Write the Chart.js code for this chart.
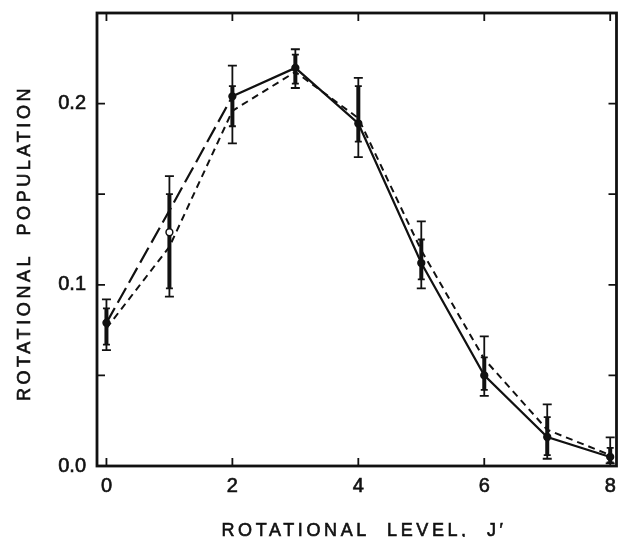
<!DOCTYPE html>
<html>
<head>
<meta charset="utf-8">
<script src="https://cdn.jsdelivr.net/npm/chart.js@4.4.1/dist/chart.umd.min.js"></script>
<style>
  html, body { margin: 0; padding: 0; background: #fff; }
  canvas { display: block; }
</style>
</head>
<body>
<canvas id="c" width="622" height="537"></canvas>
<script>
// Rotational level J'
const levels = [0, 1, 2, 3, 4, 5, 6, 7, 8];

// Model curves
const solidCurve  = [0.079, 0.141, 0.204, 0.2197, 0.189, 0.112, 0.050, 0.016, 0.005];
const dashedCurve = [0.076, 0.121, 0.196, 0.2175, 0.192, 0.119, 0.059, 0.020, 0.006];

// Measured populations (J'=1 shown as an open circle)
const measured     = [0.079, 0.129, 0.204, 0.2197, 0.189, 0.112, 0.050, 0.016, 0.005];
const measuredOpen = [false, true, false, false, false, false, false, false, false];

// Outer (thin) error limits
const thinLow  = [0.064, 0.0935, 0.178, 0.2086, 0.1705, 0.098, 0.0387, 0.004, 0.0015];
const thinHigh = [0.092, 0.160,  0.221, 0.230,  0.2142, 0.135, 0.0715, 0.034, 0.0158];

// Inner (heavy) error limits
const thickLow  = [0.067, 0.098, 0.1875, 0.211, 0.179,  0.103, 0.042, 0.006, 0.002];
const thickHigh = [0.087, 0.150, 0.2096, 0.227, 0.2096, 0.125, 0.060, 0.027, 0.010];

// Axis ticks
const xTickValues = [0, 2, 4, 6, 8];
const yTickValues = [0, 0.1, 0.2];
const yMinorTicks = [0, 0.05, 0.1, 0.15, 0.2];

const INK = '#111';
const FONT = '"Liberation Sans", Arial, Helvetica, sans-serif';

const pts = arr => levels.map((j, i) => ({ x: j, y: arr[i] }));

// Drop the label overhang padding so the plot box sits where the layout says
function noOverhang(s) {
  s.paddingTop = 0; s.paddingBottom = 0; s.paddingLeft = 0; s.paddingRight = 0;
}

// Error bars, frame, inward tick marks and axis titles
const decorations = {
  id: 'decorations',
  beforeDatasetsDraw(chart) {
    const { ctx, scales: { x, y } } = chart;
    ctx.save();
    ctx.strokeStyle = INK;
    ctx.lineCap = 'butt';
    levels.forEach((j, i) => {
      const px = x.getPixelForValue(j);
      // thin bar with wide caps
      const t0 = y.getPixelForValue(thinLow[i]);
      const t1 = y.getPixelForValue(thinHigh[i]);
      ctx.lineWidth = 1.8;
      ctx.beginPath();
      ctx.moveTo(px, t0); ctx.lineTo(px, t1);
      ctx.moveTo(px - 4.5, t0); ctx.lineTo(px + 4.5, t0);
      ctx.moveTo(px - 4.5, t1); ctx.lineTo(px + 4.5, t1);
      ctx.stroke();
      // heavy bar with short caps
      const h0 = y.getPixelForValue(thickLow[i]);
      const h1 = y.getPixelForValue(thickHigh[i]);
      ctx.lineWidth = 4;
      ctx.beginPath();
      ctx.moveTo(px, h0); ctx.lineTo(px, h1);
      ctx.stroke();
      ctx.lineWidth = 1.8;
      ctx.beginPath();
      ctx.moveTo(px - 3.5, h0); ctx.lineTo(px + 3.5, h0);
      ctx.moveTo(px - 3.5, h1); ctx.lineTo(px + 3.5, h1);
      ctx.stroke();
    });
    ctx.restore();
  },
  afterDraw(chart) {
    const { ctx, chartArea: a, scales: { x, y } } = chart;
    ctx.save();
    ctx.strokeStyle = INK;
    // frame
    ctx.lineWidth = 2.8;
    ctx.strokeRect(a.left, a.top, a.right - a.left, a.bottom - a.top);
    // inward ticks
    ctx.lineWidth = 1.8;
    ctx.beginPath();
    xTickValues.forEach(v => {
      const px = x.getPixelForValue(v);
      ctx.moveTo(px, a.bottom); ctx.lineTo(px, a.bottom - 8);
      ctx.moveTo(px, a.top);    ctx.lineTo(px, a.top + 8);
    });
    yMinorTicks.forEach(v => {
      const py = y.getPixelForValue(v);
      ctx.moveTo(a.left, py);  ctx.lineTo(a.left + 8, py);
      ctx.moveTo(a.right, py); ctx.lineTo(a.right - 8, py);
    });
    ctx.stroke();

    // axis titles
    ctx.fillStyle = INK;
    ctx.strokeStyle = INK;
    ctx.lineWidth = 0.6;
    ctx.font = '18px ' + FONT;
    ctx.letterSpacing = '3.6px';
    ctx.textAlign = 'center';
    ctx.textBaseline = 'alphabetic';
    const xt = 'ROTATIONAL  LEVEL,  J\u2032';
    ctx.fillText(xt, 364, 536);
    ctx.strokeText(xt, 364, 536);
    ctx.translate(30, 243);
    ctx.rotate(-Math.PI / 2);
    const yt = 'ROTATIONAL  POPULATION';
    ctx.fillText(yt, 0, 0);
    ctx.strokeText(yt, 0, 0);
    ctx.restore();
  }
};

new Chart(document.getElementById('c'), {
  type: 'scatter',
  data: {
    datasets: [
      {
        label: 'measured',
        data: pts(measured),
        showLine: false,
        pointRadius: 3.4,
        pointBorderWidth: 1.5,
        pointBorderColor: INK,
        pointBackgroundColor: measuredOpen.map(o => o ? '#fff' : INK),
        clip: false
      },
      {
        label: 'solid',
        data: pts(solidCurve),
        showLine: true,
        borderColor: INK,
        borderWidth: 2.2,
        pointRadius: 0,
        tension: 0,
        segment: {
          borderDash: c => c.p0.parsed.x < 2 ? [17, 6] : undefined
        }
      },
      {
        label: 'dashed',
        data: pts(dashedCurve),
        showLine: true,
        borderColor: INK,
        borderWidth: 2,
        borderDash: [7, 5],
        pointRadius: 0,
        tension: 0
      }
    ]
  },
  options: {
    responsive: false,
    animation: false,
    devicePixelRatio: 1,
    layout: { padding: { top: 13, right: 2, left: 0, bottom: 0 } },
    plugins: { legend: { display: false }, tooltip: { enabled: false } },
    scales: {
      x: {
        type: 'linear',
        min: -0.15,
        max: 8.1,
        afterBuildTicks: s => { s.ticks = xTickValues.map(v => ({ value: v })); },
        afterFit: s => { s.height = 71; noOverhang(s); },
        grid: { display: false, drawTicks: false },
        border: { display: false },
        ticks: {
          padding: 8,
          color: INK,
          textStrokeColor: INK,
          textStrokeWidth: 0.6,
          font: { family: FONT, size: 20 },
          maxRotation: 0,
          callback: v => String(v)
        }
      },
      y: {
        type: 'linear',
        min: 0,
        max: 0.25,
        afterBuildTicks: s => { s.ticks = yTickValues.map(v => ({ value: v })); },
        afterFit: s => { s.width = 97; noOverhang(s); },
        grid: { display: false, drawTicks: false },
        border: { display: false },
        ticks: {
          padding: 11,
          color: INK,
          textStrokeColor: INK,
          textStrokeWidth: 0.6,
          font: { family: FONT, size: 20 },
          callback: v => v.toFixed(1)
        }
      }
    }
  },
  plugins: [decorations]
});
</script>
</body>
</html>
